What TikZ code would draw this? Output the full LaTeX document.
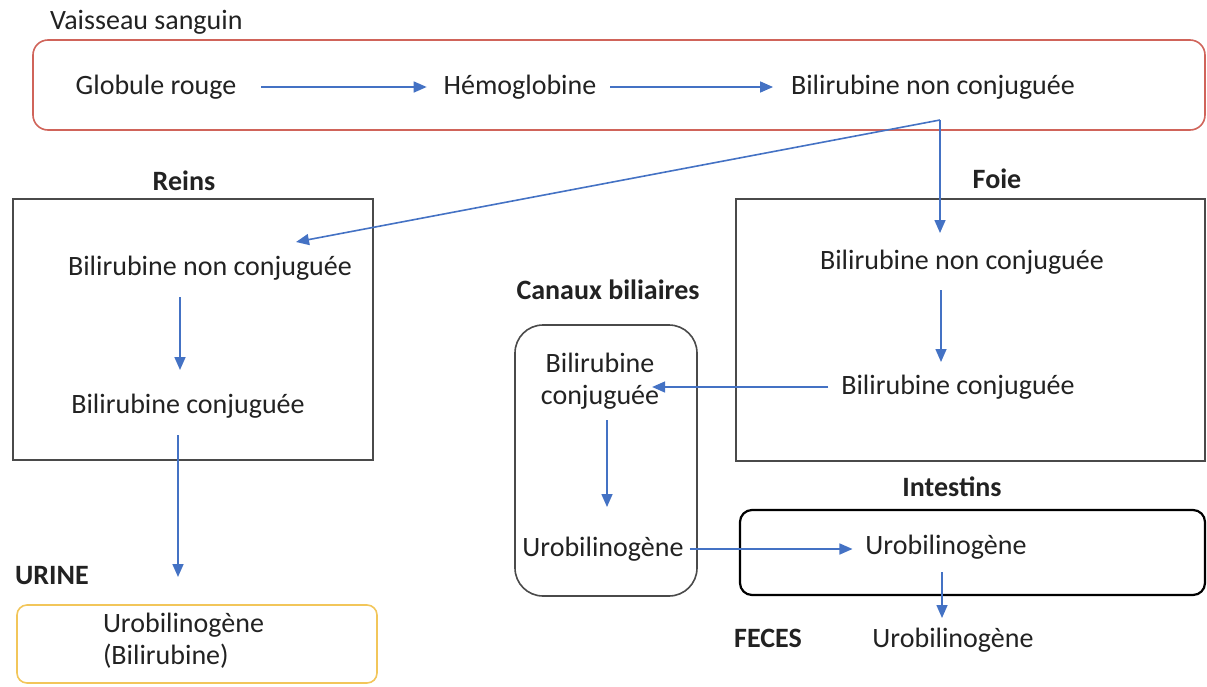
\documentclass[tikz,border=0pt]{standalone}
\usepackage{fontspec}
\setmainfont{Carlito}
\usetikzlibrary{arrows.meta,calc}
\definecolor{arrblue}{HTML}{4472C4}
\definecolor{boxred}{HTML}{D0645A}
\definecolor{boxorange}{HTML}{F2C65A}
\definecolor{boxgray}{HTML}{4A4A4A}
\definecolor{txt}{HTML}{222222}
\tikzset{
  lbl/.style={inner sep=0pt, outer sep=0pt, text=txt, font=\fontsize{28}{32}\selectfont, text height=20pt, text depth=6pt},
  blbl/.style={lbl, font=\fontsize{28}{32}\selectfont\bfseries},
  container/.style={draw=boxgray, line width=1.6pt, inner sep=0pt, outer sep=0pt},
  arr/.style={draw=arrblue, line width=1.6pt, -{Triangle[length=13pt,width=11pt]}},
  plain/.style={draw=arrblue, line width=1.6pt}
}
\begin{document}
\begin{tikzpicture}[x=1pt,y=-1pt]
\useasboundingbox (0,0) rectangle (1207,686);
% containers
\node[container, draw=boxred, rounded corners=15pt, minimum width=1172pt, minimum height=90pt] (vbox) at (619,85) {};
\node[container, minimum width=360pt, minimum height=261pt] (rbox) at (193,329.5) {};
\node[container, minimum width=469pt, minimum height=262pt] (fbox) at (970.5,330) {};
\node[container, rounded corners=28pt, minimum width=182pt, minimum height=271pt] (cbox) at (606,460.5) {};
\node[container, draw=black, line width=2.2pt, rounded corners=12pt, minimum width=465pt, minimum height=85pt] (ibox) at (972.5,552.5) {};
\node[container, draw=boxorange, rounded corners=10pt, minimum width=360pt, minimum height=78pt] (ubox) at (197,644) {};
% labels
\node[lbl, anchor=west] (vs) at (50,22) {Vaisseau sanguin};
\node[blbl] (reins) at (184,183) {Reins};
\node[blbl] (foie) at (997,181) {Foie};
\node[blbl] (canaux) at (608,292) {Canaux biliaires};
\node[blbl] (intest) at (952,489) {Intestins};
\node[blbl] (urine) at (52,577) {URINE};
\node[blbl] (feces) at (768,640) {FECES};
% texts
\node[lbl] (gr) at (156,87) {Globule rouge};
\node[lbl] (hb) at (520,87) {Hémoglobine};
\node[lbl] (bnc) at (933,87) {Bilirubine non conjuguée};
\node[lbl] (rbnc) at (210,268) {Bilirubine non conjuguée};
\node[lbl] (rbc) at (188,406) {Bilirubine conjuguée};
\node[lbl] (fbnc) at (962,262) {Bilirubine non conjuguée};
\node[lbl] (fbc) at (958,387) {Bilirubine conjuguée};
\node[lbl] (cb1) at (600,365) {Bilirubine};
\node[lbl] (cb2) at (600,397) {conjuguée};
\node[lbl] (cu) at (603,549) {Urobilinogène};
\node[lbl] (iu) at (946,547) {Urobilinogène};
\node[lbl] (fu) at (953,640) {Urobilinogène};
\node[lbl, anchor=west] (ut1) at (103,625) {Urobilinogène};
\node[lbl, anchor=west] (ut2) at (103,657) {(Bilirubine)};
% junction and free end
\coordinate (j) at (940,120);
\coordinate (rt) at (296,242);
% connectors
\draw[arr, shorten <=25pt, shorten >=17pt] (gr.east) -- (hb.west);
\draw[arr, shorten <=14pt, shorten >=18pt] (hb.east) -- (bnc.west);
\draw[arr] (j) -- (rt);
\draw[arr, shorten >=16pt] (j) -- (j |- fbnc.north);
\draw[arr, shorten <=16pt, shorten >=23pt] ([xshift=-30pt]rbnc.south) -- ([xshift=-30pt]rbnc.south |- rbc.north);
\draw[arr, shorten <=16pt, shorten >=28pt] ([xshift=-10pt]rbc.south) -- ([xshift=-10pt]rbc.south |- ubox.north);
\draw[arr, shorten <=15pt, shorten >=12pt] ([xshift=-21pt]fbnc.south) -- ([xshift=-21pt]fbnc.south |- fbc.north);
\draw[arr, shorten <=13pt, shorten >=-7pt] (fbc.west) -- (fbc.west -| cb2.east);
\draw[arr, shorten <=10pt, shorten >=29pt] ([xshift=7pt]cb2.south) -- ([xshift=7pt]cb2.south |- cu.north);
\draw[arr, shorten <=6pt, shorten >=13pt] (cu.east) -- (cu.east -| iu.west);
\draw[arr, shorten <=12pt, shorten >=9pt] ([xshift=-4pt]iu.south) -- ([xshift=-4pt]iu.south |- fu.north);
\end{tikzpicture}
\end{document}
